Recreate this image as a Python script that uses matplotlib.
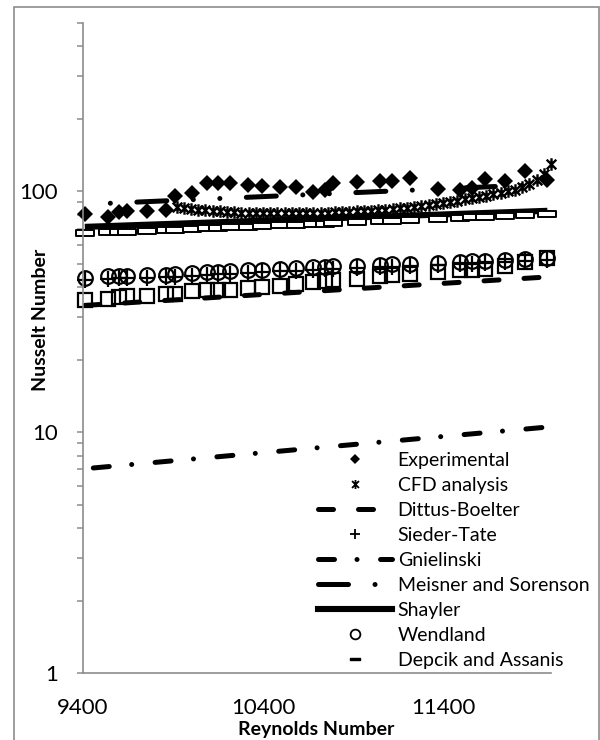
import numpy as np
import matplotlib.pyplot as plt
from matplotlib.path import Path
from matplotlib.lines import Line2D
from matplotlib.patches import Rectangle

plt.rcParams['font.family'] = ['Lato', 'DejaVu Sans']

# ---------- data ----------
re_pts = [9410, 9540, 9600, 9645, 9755, 9860, 9910, 10005, 10090, 10150,
          10215, 10315, 10395, 10495, 10585, 10680, 10745, 10790, 10920, 11050,
          11115, 11215, 11370, 11495, 11560, 11635, 11745, 11855, 11980]

exp_nu = [80.3, 78.0, 81.8, 82.6, 83.0, 83.5, 95.3, 98.1, 107.9, 107.9,
          107.9, 105.9, 104.9, 103.9, 103.9, 99.0, 101.0, 107.9, 109.0, 110.0,
          110.0, 113.2, 101.9, 101.0, 102.9, 112.0, 110.0, 122.0, 111.0]

wendland_nu = [43.8, 44.5, 44.6, 44.7, 44.9, 45.1, 45.2, 45.6, 46.2, 46.4,
               46.6, 47.0, 47.3, 47.7, 48.0, 48.4, 48.7, 48.9, 49.2, 49.6,
               49.8, 50.1, 50.6, 51.0, 51.2, 51.5, 52.0, 52.5, 53.0]

sieder_nu = [42.8, 43.4, 43.5, 43.6, 43.8, 44.0, 44.1, 44.5, 45.1, 45.3,
             45.5, 45.9, 46.2, 46.5, 46.8, 47.2, 47.5, 47.7, 48.0, 48.4,
             48.6, 48.9, 49.4, 49.8, 50.0, 50.3, 50.8, 51.2, 51.7]

other_nu = [35.3, 35.8, 36.4, 36.6, 36.8, 37.3, 37.6, 38.4, 38.8, 38.8,
            39.0, 39.6, 40.0, 40.6, 41.2, 42.0, 42.4, 42.8, 43.4, 44.4,
            44.8, 45.4, 46.2, 47.0, 47.3, 47.8, 49.2, 51.0, 52.8]

depcik_nu = [67.0, 67.6, 67.9, 68.1, 68.6, 69.1, 69.3, 69.8, 70.2, 70.5,
             70.8, 71.3, 71.7, 72.2, 72.7, 73.2, 73.5, 73.8, 74.5, 75.2,
             75.5, 76.1, 76.9, 77.6, 78.0, 78.4, 79.0, 79.6, 80.3]

# correlation lines (end values)
line_re = [9410, 11980]
dittus_nu = [33.6, 44.1]
gnielinski_nu = [7.05, 10.5]
meisner_nu = [88.3, 107.0]
shayler_nu = [71.2, 83.0]

cfd_re = [9920, 9960, 10000, 10040, 10080, 10120, 10160, 10200, 10240, 10280,
          10320, 10360, 10400, 10440, 10480, 10520, 10560, 10600, 10640, 10680,
          10720, 10760, 10800, 10840, 10880, 10920, 10960, 11000, 11040, 11080,
          11120, 11160, 11200, 11240, 11280, 11320, 11360, 11400, 11440, 11480,
          11520, 11560, 11600, 11640, 11680, 11720, 11760, 11800, 11840, 11880,
          11920, 11960, 12000]
cfd_nu = [86.0, 85.0, 84.5, 84.0, 83.5, 83.0, 82.5, 82.0, 81.8, 81.5,
          81.3, 81.2, 81.0, 81.0, 81.0, 81.0, 81.0, 81.1, 81.2, 81.3,
          81.5, 81.6, 81.8, 82.0, 82.2, 82.5, 82.8, 83.1, 83.5, 84.0,
          84.5, 85.0, 85.6, 86.3, 87.0, 87.8, 88.6, 89.5, 90.4, 91.4,
          92.5, 93.6, 94.8, 96.0, 97.3, 98.6, 100.0, 101.5, 104.0, 107.0,
          111.0, 118.0, 130.0]

labels = ['Experimental', 'CFD analysis', 'Dittus-Boelter', 'Sieder-Tate',
          'Gnielinski', 'Meisner and Sorenson', 'Shayler', 'Wendland',
          'Depcik and Assanis']

# ---------- marker shapes ----------
star = Path([(-1, -1), (1, 1), (-1, 1), (1, -1), (0, -1.3), (0, 1.3)],
            [Path.MOVETO, Path.LINETO, Path.MOVETO, Path.LINETO, Path.MOVETO, Path.LINETO])
dash_box = Path([(-1, -0.3), (1, -0.3), (1, 0.3), (-1, 0.3), (-1, -0.3)],
                [Path.MOVETO, Path.LINETO, Path.LINETO, Path.LINETO, Path.CLOSEPOLY])

gray = '#8c8c8c'
lw_px = 3.6  # correlation line width (pt)

dittus_dash = (3.0, 5.0)
gnielinski_dash = (3.2, 4.5, 0.01, 4.7)
meisner_dash = (6.0, 5.3, 0.01, 5.3, 0.01, 5.3)

fig = plt.figure(figsize=(6, 7.4), dpi=100)
ax = fig.add_axes([83/600, 1 - 673/740, (551 - 83)/600, (673 - 23)/740])

ax.plot(re_pts, exp_nu, ls='none', marker='D', ms=8.6, mfc='k', mec='k', mew=0, clip_on=False)
ax.plot(cfd_re, cfd_nu, ls='none', marker=star, ms=9, mfc='none', mec='k', mew=1.7, clip_on=False)
ax.plot(line_re, dittus_nu, color='k', lw=lw_px, ls=(0, dittus_dash), dash_capstyle='round')
ax.plot(re_pts, sieder_nu, ls='none', marker='+', ms=11, mec='k', mew=1.6, clip_on=False)
ax.plot(line_re, gnielinski_nu, color='k', lw=lw_px, ls=(10.7, gnielinski_dash), dash_capstyle='round')
ax.plot(line_re, meisner_nu, color='k', lw=lw_px, ls=(11.5, meisner_dash), dash_capstyle='round')
ax.plot(line_re, shayler_nu, color='k', lw=4.4, solid_capstyle='butt')
ax.plot(re_pts, wendland_nu, ls='none', marker='o', ms=10.5, mfc='none', mec='k', mew=1.6, clip_on=False)
ax.plot(re_pts, depcik_nu, ls='none', marker=dash_box, ms=13.5, mfc='white', mec='k', mew=1.4, clip_on=False)
ax.plot(re_pts, other_nu, ls='none', marker='s', ms=10.5, mfc='none', mec='k', mew=1.6, clip_on=False)

# ---------- axes ----------
ax.set_yscale('log')
ax.set_ylim(1, 500)
ax.set_xlim(9400, 12000)
ax.set_yticks([1, 10, 100])
ax.set_yticklabels(['1', '10', '100'])
ax.set_xticks([9400, 10400, 11400])
ax.set_xticklabels(['9400', '10400', '11400'])
ax.tick_params(axis='y', which='both', direction='out', length=4.3, width=1.1,
               color=gray, labelsize=16, pad=14)
ax.tick_params(axis='y', which='minor', labelleft=False)
ax.tick_params(axis='x', length=0, labelsize=16, pad=18)
for s in ['top', 'right']:
    ax.spines[s].set_visible(False)
for s in ['left', 'bottom']:
    ax.spines[s].set_color(gray)
    ax.spines[s].set_linewidth(1.2)

fig.text(40/600, 1 - 320/740, 'Nusselt Number', rotation=90, ha='center', va='center',
         fontsize=14, fontweight='bold')
fig.text(316/600, 1 - 729/740, 'Reynolds Number', ha='center', va='center',
         fontsize=14, fontweight='bold')

# ---------- legend ----------
handles = [
    Line2D([], [], ls='none', marker='D', ms=5, mfc='k', mec='k', mew=0),
    Line2D([], [], ls='none', marker=star, ms=6.5, mfc='none', mec='k', mew=1.3),
    Line2D([], [], color='k', lw=lw_px, ls=(0, dittus_dash), dash_capstyle='round'),
    Line2D([], [], ls='none', marker='+', ms=7, mec='k', mew=1.3),
    Line2D([], [], color='k', lw=lw_px, ls=(0, gnielinski_dash), dash_capstyle='round'),
    Line2D([], [], color='k', lw=lw_px, ls=(0, meisner_dash), dash_capstyle='round'),
    Line2D([], [], color='k', lw=4.4),
    Line2D([], [], ls='none', marker='o', ms=7, mfc='none', mec='k', mew=1.3),
    Line2D([], [], ls='none', marker=dash_box, ms=7, mfc='k', mec='k', mew=1.0),
]
fig.legend(handles, labels, loc='upper left', bbox_to_anchor=(318/600, 1 - 452/740),
           bbox_transform=fig.transFigure, frameon=False, fontsize=14,
           handlelength=3.8, handletextpad=0.3, labelspacing=0.41,
           borderpad=0, borderaxespad=0)

# chart border
fig.patches.append(Rectangle((14/600, -0.01), (599 - 14)/600, 1 - 7/740 + 0.01,
                             transform=fig.transFigure, fill=False, ec=gray, lw=1.2))

fig.savefig('out.png', dpi=100)
